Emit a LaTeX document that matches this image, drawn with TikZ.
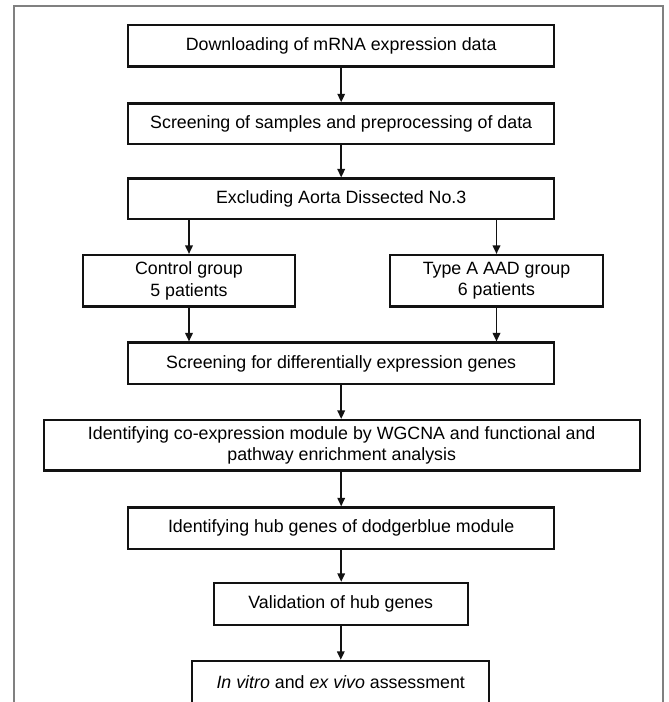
\documentclass[tikz,border=0pt]{standalone}
\usepackage{fontspec}
\setmainfont{Liberation Sans}
\usetikzlibrary{arrows.meta}
\begin{document}
\begin{tikzpicture}[x=1pt,y=1pt,
  box/.style={draw=black!93, line width=2.4pt, inner sep=0pt, align=center,
    font=\fontsize{17.8}{21.5}\selectfont},
  flow/.style={line width=1.7pt, draw=black!93, -{Triangle[length=8.5pt,width=7.5pt]}},
  frame/.style={draw=black!50, line width=1.3pt}]
\useasboundingbox (0,0) rectangle (669,-702);
\clip (0,0) rectangle (669,-702);
\draw[frame] (14,-6) rectangle (663,-730);
\node[box, minimum width=426pt, minimum height=41.5pt] (b1) at (341.2,-45.9) {Downloading of mRNA expression data};
\node[box, minimum width=426pt, minimum height=40.5pt] (b2) at (341.2,-123.7) {Screening of samples and preprocessing of data};
\node[box, minimum width=426pt, minimum height=40.5pt] (b3) at (341.2,-198.9) {Excluding Aorta Dissected No.3};
\node[box, minimum width=211.5pt, minimum height=51.5pt] (ctrl) at (189,-280.9) {Control group\\5 patients};
\node[box, minimum width=212.5pt, minimum height=51.5pt] (typea) at (496.5,-280.9) {Type A AAD group\\6 patients};
\node[box, minimum width=426pt, minimum height=41.5pt] (deg) at (341.2,-363.4) {Screening for differentially expression genes};
\node[box, minimum width=596pt, minimum height=50.5pt] (wg) at (341.7,-445.4) {Identifying co-expression module by WGCNA and functional and\\pathway enrichment analysis};
\node[box, minimum width=426pt, minimum height=41.5pt] (hub) at (341.2,-528.3) {Identifying hub genes of dodgerblue module};
\node[box, minimum width=254pt, minimum height=42pt] (val) at (340.8,-604) {Validation of hub genes};
\node[box, minimum width=297pt, minimum height=42pt] (vit) at (340.7,-682) {\textit{In vitro} and \textit{ex vivo} assessment};
\draw[flow] (b1.south) -- (b2.north);
\draw[flow] (b2.south) -- (b3.north);
\draw[flow] (b3.south -| ctrl) -- (ctrl.north);
\draw[flow] (b3.south -| typea) -- (typea.north);
\draw[flow] (ctrl.south) -- (deg.north -| ctrl);
\draw[flow] (typea.south) -- (deg.north -| typea);
\draw[flow] (deg.south) -- (wg.north -| deg);
\draw[flow] (wg.south -| hub) -- (hub.north);
\draw[flow] (hub.south) -- (val.north -| hub);
\draw[flow] (val.south) -- (vit.north -| val);
\end{tikzpicture}
\end{document}
